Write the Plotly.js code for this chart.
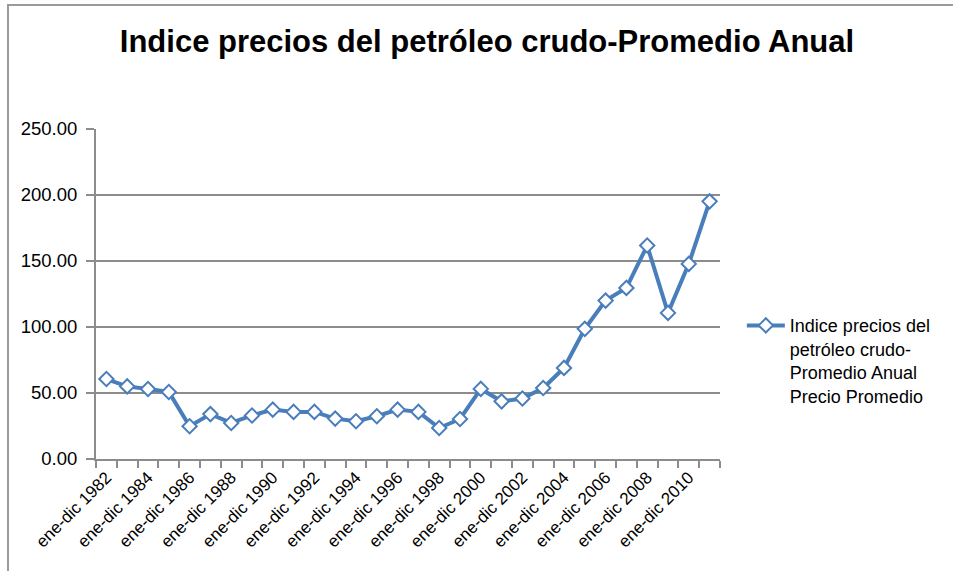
<!DOCTYPE html>
<html>
<head>
<meta charset="utf-8">
<script src="https://cdn.plot.ly/plotly-3.0.1.min.js"></script>
<style>
html,body{margin:0;padding:0;background:#fff;}
#frame{position:absolute;left:7px;top:4px;width:946px;height:567px;border-left:2px solid #9a9a9a;border-top:2px solid #9a9a9a;box-sizing:border-box;}
#chart{position:absolute;left:0;top:0;width:953px;height:571px;}
</style>
</head>
<body>
<div id="frame"></div>
<div id="chart"></div>
<script>
const years = [1982,1983,1984,1985,1986,1987,1988,1989,1990,1991,1992,1993,1994,1995,1996,1997,1998,1999,2000,2001,2002,2003,2004,2005,2006,2007,2008,2009,2010,2011];
const values = [60.6,55.0,53.0,50.8,24.8,34.0,27.3,33.0,37.4,35.7,35.7,30.6,28.6,32.4,37.4,35.7,23.5,30.3,53.1,43.7,45.8,53.8,69.0,98.6,120.0,129.6,161.7,110.7,147.8,195.2];
const tickYears = [1982,1984,1986,1988,1990,1992,1994,1996,1998,2000,2002,2004,2006,2008,2010];
const tickLabels = tickYears.map(y => 'ene-dic ' + y);
const seriesName = 'Indice precios del<br>petróleo crudo-<br>Promedio Anual<br>Precio Promedio';
const titleText = 'Indice precios del petróleo crudo-Promedio Anual';

const blue = '#4A7EBB';
const grid = '#8c8c8c';

const trace = {
  x: years, y: values, type: 'scatter', mode: 'lines+markers',
  name: seriesName,
  line: {color: blue, width: 4},
  marker: {symbol: 'diamond', size: 11, color: '#ffffff', line: {color: blue, width: 2}}
};

const layout = {
  width: 953, height: 571,
  paper_bgcolor: 'rgba(0,0,0,0)', plot_bgcolor: 'rgba(0,0,0,0)',
  margin: {l: 96, r: 233, t: 129, b: 112},
  font: {family: 'Liberation Sans, Arial, sans-serif', color: '#000', size: 16},
  title: {text: '<b>' + titleText + '</b>', x: 0.511, xanchor: 'center', y: 0.928, yanchor: 'middle',
          font: {family: 'Liberation Sans, Arial, sans-serif', size: 31, color: '#000'}},
  xaxis: {
    range: [1981.5, 2011.5], showgrid: false, zeroline: false,
    showline: true, linecolor: grid, linewidth: 2,
    tickmode: 'array', tickvals: tickYears, ticktext: tickLabels,
    tickangle: -45, ticks: '', tickfont: {size: 17},
    minor: {ticks: 'outside', tick0: 1981.5, dtick: 1, ticklen: 7, tickcolor: grid, tickwidth: 2, showgrid: false}
  },
  yaxis: {
    range: [0, 250], dtick: 50, tick0: 0, tickformat: '.2f',
    showgrid: true, gridcolor: grid, gridwidth: 2, zeroline: false,
    showline: true, linecolor: grid, linewidth: 2,
    ticks: 'outside', ticklen: 8, tickcolor: grid, tickwidth: 2,
    ticklabelstandoff: 5,
    tickfont: {size: 18.5}
  },
  showlegend: true,
  legend: {x: 1.035, xanchor: 'left', y: 0.46, yanchor: 'top', valign: 'top',
           font: {size: 18}, bgcolor: 'rgba(0,0,0,0)', itemwidth: 38, tracegroupgap: 0}
};

Plotly.newPlot('chart', [trace], layout, {displayModeBar: false, staticPlot: true});
</script>
</body>
</html>
